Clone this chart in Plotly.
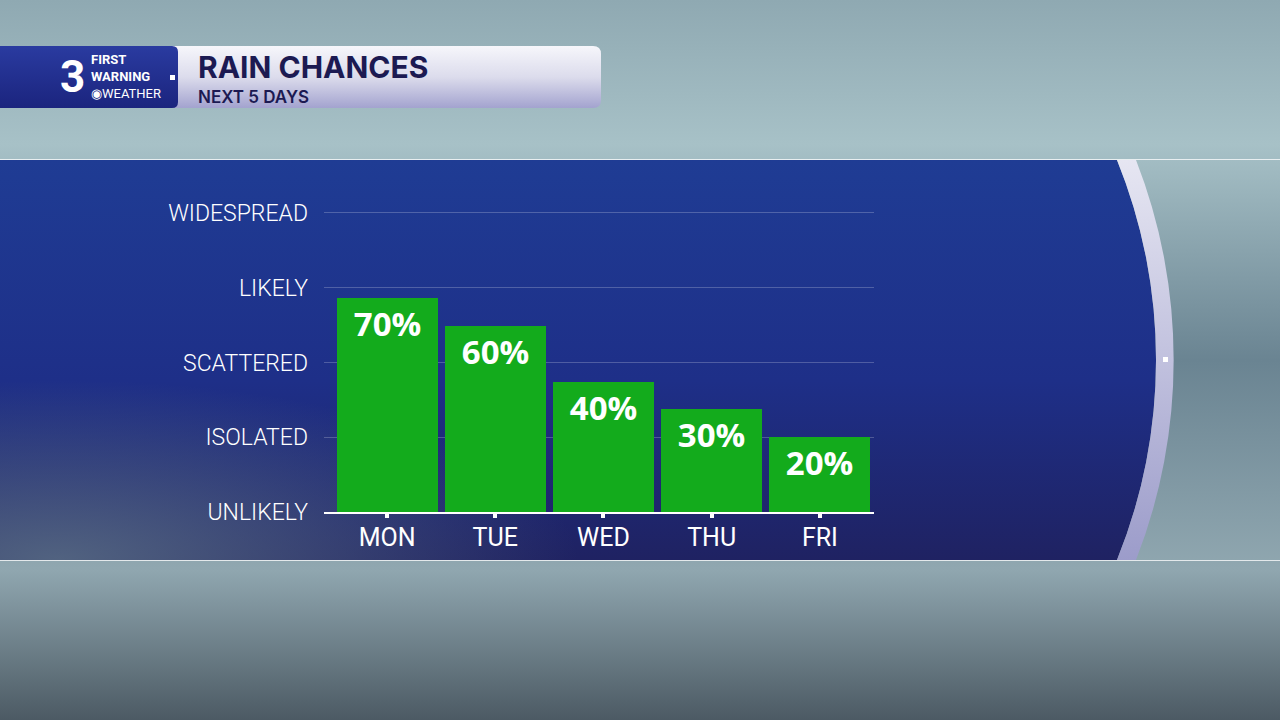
import base64
import plotly.graph_objects as go

# forecast data
days = ["MON", "TUE", "WED", "THU", "FRI"]
chance_pct = [70, 60, 40, 30, 20]
# bar heights on the category scale (0 = unlikely ... 4 = widespread)
chance_level = [2.86, 2.49, 1.74, 1.38, 1.0]
level_names = ["UNLIKELY", "ISOLATED", "SCATTERED", "LIKELY", "WIDESPREAD"]
level_ticks = [0, 1, 2, 3, 4]

W, H = 1280, 720
L, R, T, B = 324, 406, 198, 208
PW, PH = W - L - R, H - T - B


def px(x):
    return (x - L) / PW


def py(y):
    return (H - B - y) / PH


# backdrop: rainy window, blue panel with curved edge, header bar
svg = """<svg xmlns="http://www.w3.org/2000/svg" width="1280" height="720" viewBox="0 0 1280 720" preserveAspectRatio="none">
<defs>
<linearGradient id="bg" x1="0" y1="0" x2="0" y2="1">
<stop offset="0" stop-color="#8FA9B2"/><stop offset="0.2" stop-color="#A7C1C7"/>
<stop offset="0.5" stop-color="#6A8492"/><stop offset="0.79" stop-color="#90A7B0"/>
<stop offset="1" stop-color="#4C5A64"/></linearGradient>
<linearGradient id="panel" x1="0" y1="0" x2="0" y2="1">
<stop offset="0" stop-color="#1F3C94"/><stop offset="0.55" stop-color="#1E2F88"/>
<stop offset="1" stop-color="#1F2262"/></linearGradient>
<radialGradient id="haze" cx="0.05" cy="1" r="0.45">
<stop offset="0" stop-color="#62788A" stop-opacity="0.75"/>
<stop offset="1" stop-color="#62788A" stop-opacity="0"/></radialGradient>
<linearGradient id="ring" x1="0" y1="0" x2="0" y2="1">
<stop offset="0" stop-color="#E6E6F2"/><stop offset="1" stop-color="#9C9CCA"/></linearGradient>
<linearGradient id="hdr" x1="0" y1="0" x2="0" y2="1">
<stop offset="0" stop-color="#F6F6FB"/><stop offset="0.5" stop-color="#DCDCEC"/>
<stop offset="1" stop-color="#A3A3CF"/></linearGradient>
<linearGradient id="logo" x1="0" y1="0" x2="0" y2="1">
<stop offset="0" stop-color="#2A3BA0"/><stop offset="1" stop-color="#1B247E"/></linearGradient>
</defs>
<rect x="0" y="0" width="1280" height="720" fill="url(#bg)"/>
<path d="M0,160 L1117,160 A532,532 0 0 1 1117,560 L0,560 Z" fill="url(#panel)"/>
<path d="M0,160 L1117,160 A532,532 0 0 1 1117,560 L0,560 Z" fill="url(#haze)"/>
<path d="M1117,160 L1136,160 A550,550 0 0 1 1136,560 L1117,560 A532,532 0 0 0 1117,160 Z" fill="url(#ring)"/>
<rect x="1163" y="357" width="5" height="5" fill="#FFFFFF"/>
<line x1="0" y1="159.5" x2="1280" y2="159.5" stroke="#FFFFFF" stroke-opacity="0.75" stroke-width="1"/>
<line x1="0" y1="560.5" x2="1280" y2="560.5" stroke="#FFFFFF" stroke-opacity="0.75" stroke-width="1"/>
<path d="M170,46 L593,46 Q601,46 601,54 L601,100 Q601,108 593,108 L170,108 Z" fill="url(#hdr)"/>
<path d="M0,46 L172,46 Q178,46 178,52 L178,102 Q178,108 172,108 L0,108 Z" fill="url(#logo)"/>
<rect x="170" y="75" width="5" height="5" fill="#FFFFFF"/>
</svg>"""
bg_uri = "data:image/svg+xml;base64," + base64.b64encode(svg.encode()).decode()

fig = go.Figure()
fig.add_trace(go.Bar(
    x=days, y=chance_level, width=0.934,
    marker=dict(color="#13AB1C", line=dict(width=0)),
    text=[f"{c}%" for c in chance_pct],
    textposition="inside", insidetextanchor="end", constraintext="none",
    textangle=0,
    textfont=dict(family="Open Sans", size=33, color="white", weight="bold"),
    hoverinfo="skip",
))

fig.add_layout_image(dict(
    source=bg_uri, xref="paper", yref="paper",
    x=px(0), y=py(0), sizex=W / PW, sizey=H / PH,
    xanchor="left", yanchor="top", sizing="stretch", layer="below",
))

fig.update_xaxes(
    range=[-0.583, 4.5], showgrid=False, zeroline=False,
    showline=True, linecolor="white", linewidth=1.5,
    ticks="outside", ticklen=4, tickwidth=4, tickcolor="white",
    tickfont=dict(family="Roboto", size=25, color="white"),
    ticklabelstandoff=-2,
)
fig.update_yaxes(
    range=[0, 4.2], tickvals=level_ticks, ticktext=level_names,
    showgrid=True, gridcolor="rgba(255,255,255,0.22)", gridwidth=1,
    zeroline=False, showline=False, ticks="",
    tickfont=dict(family="Roboto", size=23, color="white", weight=300),
    ticklabelstandoff=15,
)

# header titles
fig.add_annotation(
    text="RAIN CHANCES", xref="paper", yref="paper", x=px(196), y=py(87),
    xanchor="left", yanchor="bottom", showarrow=False,
    font=dict(family="Inter", size=30, color="#1C1A52", weight=700),
)
fig.add_annotation(
    text="NEXT 5 DAYS", xref="paper", yref="paper", x=px(196), y=py(85),
    xanchor="left", yanchor="top", showarrow=False,
    font=dict(family="Inter", size=17, color="#1C1A52", weight=600),
)
# station logo
fig.add_annotation(
    text="<b>3</b>", xref="paper", yref="paper", x=px(58), y=py(77),
    xanchor="left", yanchor="middle", showarrow=False,
    font=dict(family="Roboto", size=44, color="white", weight=900),
)
fig.add_annotation(
    text="<b>FIRST</b><br><b>WARNING</b><br>◉WEATHER", align="left",
    xref="paper", yref="paper", x=px(89), y=py(77),
    xanchor="left", yanchor="middle", showarrow=False,
    font=dict(family="Roboto", size=13, color="white"),
)

fig.update_layout(
    width=W, height=H,
    margin=dict(l=L, r=R, t=T, b=B),
    paper_bgcolor="#6A8492", plot_bgcolor="rgba(0,0,0,0)",
    showlegend=False, bargap=0,
)

fig.write_html(
    "out.html",
    config={"displayModeBar": False},
    post_script="document.body.style.margin='0';",
)
